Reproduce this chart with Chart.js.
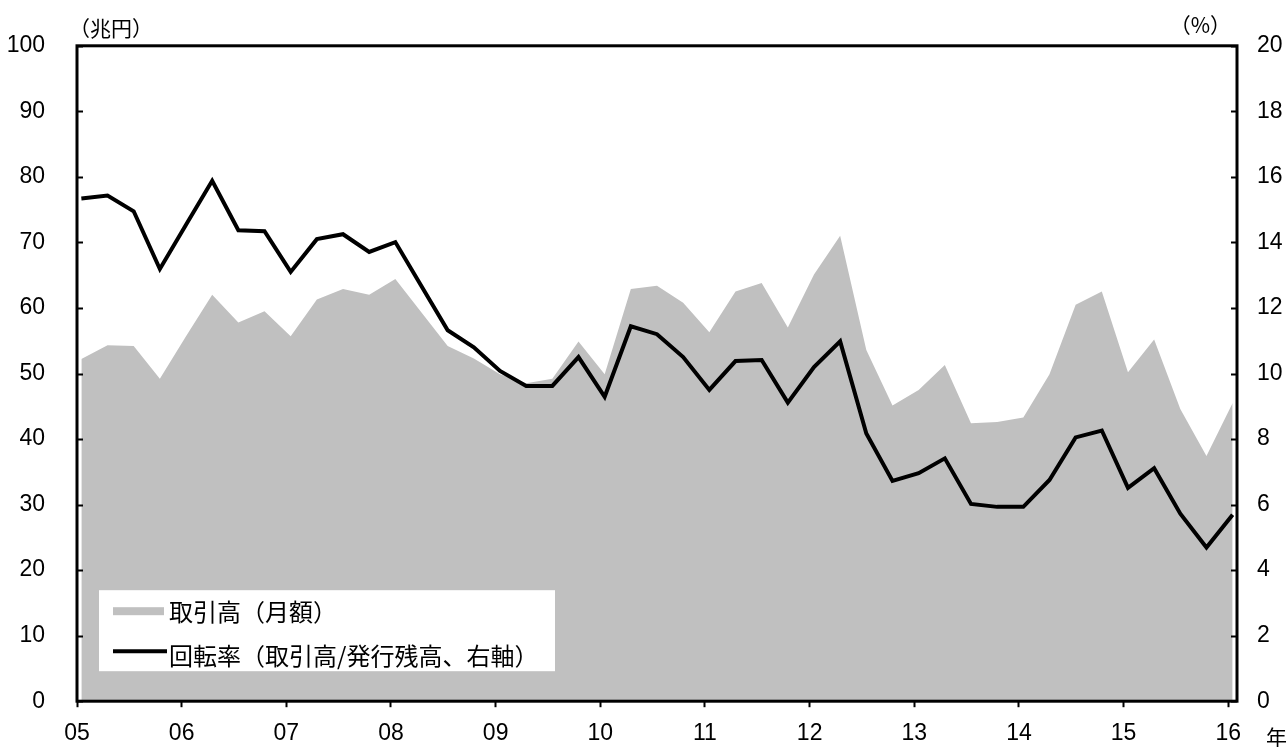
<!DOCTYPE html>
<html lang="ja">
<head>
<meta charset="utf-8">
<title>取引高と回転率</title>
<script src="https://cdn.jsdelivr.net/npm/chart.js@4.4.1/dist/chart.umd.min.js"></script>
<style>
  html, body { margin: 0; padding: 0; background: #fff; }
  #wrap { width: 1288px; height: 747px; }
</style>
</head>
<body>
<div id="wrap"><canvas id="chart" width="1288" height="747"></canvas></div>
<script>
// Quarterly observations (year/month)
const periods = [
  '2005/01', '2005/04', '2005/07', '2005/10',
  '2006/01', '2006/04', '2006/07', '2006/10',
  '2007/01', '2007/04', '2007/07', '2007/10',
  '2008/01', '2008/04', '2008/07', '2008/10',
  '2009/01', '2009/04', '2009/07', '2009/10',
  '2010/01', '2010/04', '2010/07', '2010/10',
  '2011/01', '2011/04', '2011/07', '2011/10',
  '2012/01', '2012/04', '2012/07', '2012/10',
  '2013/01', '2013/04', '2013/07', '2013/10',
  '2014/01', '2014/04', '2014/07', '2014/10',
  '2015/01', '2015/04', '2015/07', '2015/10',
  '2016/01'
];

// 取引高（月額, 兆円）
const volume = [
  52.2, 54.3, 54.2, 49.2, 55.7, 62.0, 57.8, 59.5, 55.7, 61.3,
  62.9, 62.0, 64.4, 59.3, 54.2, 52.3, 49.9, 48.5, 49.2, 54.9,
  49.9, 62.9, 63.4, 60.8, 56.3, 62.5, 63.8, 57.0, 65.1, 71.0,
  53.6, 45.1, 47.5, 51.3, 42.4, 42.6, 43.3, 49.9, 60.5, 62.5,
  50.2, 55.2, 44.6, 37.4, 45.5
];

// 回転率（%, 右軸）
const turnover = [
  15.34, 15.43, 14.95, 13.19, 14.54, 15.88, 14.37, 14.34, 13.10, 14.10,
  14.25, 13.71, 14.01, 12.66, 11.32, 10.80, 10.08, 9.62, 9.62, 10.50,
  9.29, 11.44, 11.20, 10.50, 9.50, 10.38, 10.41, 9.11, 10.20, 10.98,
  8.17, 6.72, 6.96, 7.41, 6.02, 5.93, 5.93, 6.75, 8.05, 8.26,
  6.51, 7.11, 5.72, 4.69, 5.69
];

const tickYears = [2005, 2006, 2007, 2008, 2009, 2010, 2011, 2012, 2013, 2014, 2015, 2016];
const xTickLabels = ['05', '06', '07', '08', '09', '10', '11', '12', '13', '14', '15', '16'];

const NUM_FONT = "'Liberation Sans', Arial, sans-serif";
const JP_FONT = "'Noto Sans CJK JP', 'Noto Sans', sans-serif";

// place each observation in the middle of its month
const toX = p => {
  const [y, m] = p.split('/').map(Number);
  return y + (m - 0.5) / 12;
};

const volumePts = periods.map((p, i) => ({ x: toX(p), y: volume[i] }));
const turnoverPts = periods.map((p, i) => ({ x: toX(p), y: turnover[i] }));

// frame, inward ticks, legend and unit captions
const decorations = {
  id: 'decorations',
  afterDatasetsDraw(chart) {
    const { ctx, chartArea: a, scales } = chart;
    ctx.save();
    ctx.strokeStyle = '#000';

    // inward tick marks on both value axes
    ctx.lineWidth = 2;
    ['y', 'y1'].forEach(id => {
      const s = scales[id];
      s.ticks.forEach(t => {
        const py = Math.round(s.getPixelForValue(t.value)) + 0.5;
        ctx.beginPath();
        if (id === 'y') {
          ctx.moveTo(a.left, py);
          ctx.lineTo(a.left + 6, py);
        } else {
          ctx.moveTo(a.right, py);
          ctx.lineTo(a.right - 6, py);
        }
        ctx.stroke();
      });
    });

    // frame
    ctx.lineWidth = 3;
    ctx.strokeRect(a.left, a.top, a.right - a.left, a.bottom - a.top);

    // legend box
    const lx = a.left + 22, ly = a.bottom - 111;
    ctx.fillStyle = '#fff';
    ctx.fillRect(lx, ly, 456, 81);

    const ds = chart.data.datasets;
    const area = ds.find(d => d.fill);
    const line = ds.find(d => !d.fill);

    ctx.fillStyle = area.backgroundColor;
    ctx.fillRect(lx + 14, ly + 17, 51, 8);

    ctx.strokeStyle = line.borderColor;
    ctx.lineWidth = 4;
    ctx.beginPath();
    ctx.moveTo(lx + 14, ly + 61);
    ctx.lineTo(lx + 68, ly + 61);
    ctx.stroke();

    ctx.fillStyle = '#000';
    ctx.font = '24px ' + JP_FONT;
    ctx.textBaseline = 'middle';
    ctx.textAlign = 'left';
    ctx.fillText(area.label, lx + 70, ly + 22);
    ctx.fillText(line.label, lx + 70, ly + 66);

    // unit captions
    ctx.font = '21px ' + JP_FONT;
    ctx.fillText('（兆円）', a.left - 8, a.top - 18);
    ctx.textAlign = 'right';
    ctx.fillText('（%）', a.right - 6, a.top - 21);
    ctx.textAlign = 'left';
    ctx.fillText('年', a.right + 29, a.bottom + 36);

    ctx.restore();
  }
};

new Chart(document.getElementById('chart'), {
  type: 'line',
  data: {
    datasets: [
      {
        label: '回転率（取引高/発行残高、右軸）',
        data: turnoverPts,
        yAxisID: 'y1',
        borderColor: '#000',
        borderWidth: 4,
        pointRadius: 0,
        tension: 0,
        fill: false,
        order: 1
      },
      {
        label: '取引高（月額）',
        data: volumePts,
        yAxisID: 'y',
        backgroundColor: '#c0c0c0',
        borderWidth: 0,
        pointRadius: 0,
        tension: 0,
        fill: 'origin',
        order: 2
      }
    ]
  },
  options: {
    responsive: false,
    animation: false,
    layout: { padding: { top: 41, left: 0, right: 0, bottom: 0 } },
    plugins: {
      legend: { display: false },
      tooltip: { enabled: false }
    },
    scales: {
      x: {
        type: 'linear',
        position: 'bottom',
        min: 2005,
        max: 2016 + 1 / 12,
        afterBuildTicks: s => { s.ticks = tickYears.map(v => ({ value: v })); },
        afterFit: s => { s.height = 45; },
        ticks: {
          callback: (v, i) => xTickLabels[i],
          font: { family: NUM_FONT, size: 23 },
          color: '#000',
          padding: 13,
          maxRotation: 0,
          autoSkip: false
        },
        grid: {
          drawOnChartArea: false,
          drawTicks: true,
          tickLength: 6,
          tickWidth: 2,
          tickColor: '#000'
        },
        border: { display: false }
      },
      y: {
        position: 'left',
        min: 0,
        max: 100,
        afterFit: s => { s.width = 77; },
        ticks: {
          stepSize: 10,
          font: { family: NUM_FONT, size: 23 },
          color: '#000',
          padding: 32
        },
        grid: { display: false, drawTicks: false },
        border: { display: false }
      },
      y1: {
        position: 'right',
        min: 0,
        max: 20,
        afterFit: s => { s.width = 51; },
        ticks: {
          stepSize: 2,
          font: { family: NUM_FONT, size: 23 },
          color: '#000',
          padding: 20
        },
        grid: { display: false, drawTicks: false },
        border: { display: false }
      }
    }
  },
  plugins: [decorations]
});
</script>
</body>
</html>
